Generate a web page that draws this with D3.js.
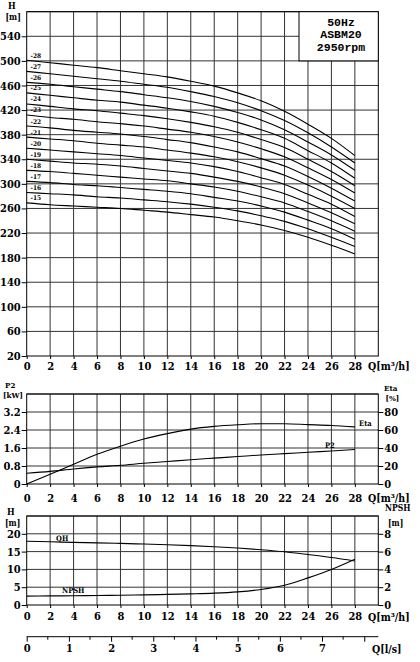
<!DOCTYPE html>
<html lang="en">
    <head>
        <meta charset="UTF-8"/>
        <title>ASBM20 pump curves</title>
        <script src="https://d3js.org/d3.v7.min.js"></script>
        <style>
            body { margin: 0; background: #fff; }
            svg text { font-family: "DejaVu Serif Condensed", "DejaVu Serif", serif; font-weight: bold; font-stretch: condensed; fill: #000; }
            .grid { stroke: #333; stroke-width: 1; }
            .curve { fill: none; stroke: #000; stroke-width: 1.1; }
        </style>
    </head>

    <body>
        <script>
        var w = 420;
        var h = 662;

        // flow points (m3/h) where the curves were read
        var qPoints = [0, 2, 4, 6, 8, 10, 12, 14, 16, 18, 20, 22, 24, 26, 28];
        var qTicks = [0, 2, 4, 6, 8, 10, 12, 14, 16, 18, 20, 22, 24, 26, 28];

        // head of each stage count
        var stages = [15, 16, 17, 18, 19, 20, 21, 22, 23, 24, 25, 26, 27, 28];
        var stageHeads = [
            [269, 266, 264, 262, 260, 257, 254, 250, 246, 240, 233, 224, 213, 200, 186],
            [286, 284, 282, 279, 277, 274, 271, 267, 262, 256, 248, 239, 227, 213, 198],
            [304, 302, 299, 297, 294, 291, 288, 284, 278, 272, 264, 254, 241, 227, 210],
            [322, 320, 317, 314, 311, 308, 305, 300, 295, 288, 279, 269, 255, 240, 223],
            [340, 337, 334, 332, 329, 325, 321, 317, 311, 304, 295, 284, 269, 253, 235],
            [358, 355, 352, 349, 346, 342, 338, 334, 328, 320, 310, 299, 283, 267, 247],
            [376, 373, 370, 366, 363, 360, 355, 350, 344, 336, 326, 314, 298, 280, 260],
            [394, 391, 387, 384, 381, 377, 372, 367, 360, 352, 341, 329, 312, 293, 272],
            [412, 408, 405, 401, 398, 394, 389, 384, 377, 368, 357, 344, 326, 307, 285],
            [430, 426, 422, 419, 415, 411, 406, 400, 393, 384, 372, 359, 340, 320, 297],
            [448, 444, 440, 436, 433, 428, 423, 417, 410, 400, 388, 374, 354, 334, 309],
            [465, 462, 458, 454, 450, 445, 440, 434, 426, 416, 404, 388, 368, 347, 322],
            [483, 479, 475, 471, 467, 462, 457, 450, 442, 432, 419, 403, 383, 360, 334],
            [501, 497, 493, 489, 484, 479, 474, 467, 459, 448, 435, 418, 397, 374, 346]
        ];
        var hTicks = [20, 60, 100, 140, 180, 220, 260, 300, 340, 380, 420, 460, 500, 540];

        // power and efficiency
        var p2 = [0.48, 0.56, 0.67, 0.76, 0.83, 0.92, 1.0, 1.08, 1.15, 1.22, 1.29, 1.35, 1.41, 1.47, 1.53];
        var eta = [0, 10.8, 22, 33, 42, 50, 56, 61, 64, 65.8, 67, 67, 66, 65, 63.5];
        var p2Ticks = [0, 0.8, 1.6, 2.4, 3.2];
        var etaTicks = [0, 20, 40, 60, 80];

        // single stage head and NPSH
        var headPerStage = [17.9, 17.75, 17.6, 17.45, 17.3, 17.12, 16.92, 16.68, 16.38, 16.0, 15.52, 14.94, 14.17, 13.34, 12.37];
        var npsh = [1.0, 1.02, 1.04, 1.07, 1.1, 1.14, 1.19, 1.25, 1.33, 1.48, 1.75, 2.22, 3.05, 4.0, 5.15];
        var qhTicks = [0, 5, 10, 15, 20];
        var npshTicks = [0, 2, 4, 6, 8];
        var lsTicks = [0, 1, 2, 3, 4, 5, 6, 7, 8];
        var lsMinor = [0.5, 1.5, 2.5, 3.5, 4.5, 5.5, 6.5, 7.5];

        var legendLines = ["50Hz", "ASBM20", "2950rpm"];

        var left = 26.7;
        var right = 378.3;

        var xScale = d3.scaleLinear()
                        .domain([0, 30])
                        .range([left, right]);

        var svg = d3.select("body")
                    .append("svg")
                    .attr("width", w)
                    .attr("height", h);

        function clearAxis(g) {
            g.attr("font-family", null).attr("font-size", null);
            g.select(".domain").remove();
            g.selectAll("line").attr("stroke", "#000");
        }

        // draws grid, frame and bottom axis of one panel
        function panel(yScale, yTicks, labelPad, qShift) {
            var yBottom = yScale.range()[0];
            var yMax = yScale.range()[1];

            svg.append("g").selectAll("line")
                .data(qTicks.slice(1))
                .enter()
                .append("line")
                .attr("class", "grid")
                .attr("x1", d => xScale(d))
                .attr("x2", d => xScale(d))
                .attr("y1", yMax)
                .attr("y2", yBottom);

            svg.append("g").selectAll("line")
                .data(yTicks.slice(1))
                .enter()
                .append("line")
                .attr("class", "grid")
                .attr("x1", left)
                .attr("x2", right)
                .attr("y1", d => yScale(d))
                .attr("y2", d => yScale(d));

            // frame
            svg.append("rect")
                .attr("x", left)
                .attr("y", yMax)
                .attr("width", right - left)
                .attr("height", yBottom - yMax)
                .attr("fill", "none")
                .attr("stroke", "#000");

            var xAxis = d3.axisBottom(xScale)
                            .tickValues(qTicks)
                            .tickSize(3)
                            .tickPadding(labelPad)
                            .tickFormat(d3.format("d"));

            svg.append("g")
                .attr("transform", "translate(0," + yBottom + ")")
                .call(xAxis)
                .call(clearAxis)
                .selectAll("text")
                .style("font-size", "11px");

            svg.append("text")
                .attr("x", 368)
                .attr("y", yBottom + labelPad + 3 + 0.71 * 11 + qShift)
                .style("font-size", "10.5px")
                .text("Q[m³/h]");
        }

        function leftAxis(yScale, ticks, fmt) {
            var yAxis = d3.axisLeft(yScale)
                            .tickValues(ticks)
                            .tickSize(5)
                            .tickPadding(1)
                            .tickFormat(fmt);
            svg.append("g")
                .attr("transform", "translate(" + left + ",0)")
                .call(yAxis)
                .call(clearAxis)
                .selectAll("text")
                .style("font-size", "11px");
        }

        function rightAxis(yScale, ticks) {
            var yAxis = d3.axisRight(yScale)
                            .tickValues(ticks)
                            .tickSize(5)
                            .tickPadding(1)
                            .tickFormat(d3.format("d"));
            svg.append("g")
                .attr("transform", "translate(" + right + ",0)")
                .call(yAxis)
                .call(clearAxis)
                .selectAll("text")
                .style("font-size", "11px");
        }

        function smallText(x, y, size, txt) {
            svg.append("text")
                .attr("x", x)
                .attr("y", y)
                .style("font-size", size + "px")
                .text(txt);
        }

        /* Top chart: H for each stage count */
        var yTop = d3.scaleLinear()
                        .domain([20, 580])
                        .range([356, 11.7]);

        panel(yTop, hTicks.concat([580]), 3, 0);
        leftAxis(yTop, hTicks, d3.format("d"));

        var topLine = d3.line()
                        .x((d, i) => xScale(qPoints[i]))
                        .y(d => yTop(d))
                        .curve(d3.curveMonotoneX);

        svg.append("g").selectAll("path")
            .data(stageHeads)
            .enter()
            .append("path")
            .attr("class", "curve")
            .attr("d", topLine);

        svg.append("g").selectAll("text")
            .data(stages)
            .enter()
            .append("text")
            .attr("x", 30.5)
            .attr("y", (d, i) => yTop(stageHeads[i][0]) - 2.5)
            .style("font-size", "6.5px")
            .text(d => "-" + d);

        // legend box
        svg.append("rect")
            .attr("x", 299)
            .attr("y", 11.7)
            .attr("width", right - 299)
            .attr("height", yTop(500) - 11.7)
            .attr("fill", "#fff")
            .attr("stroke", "#000");

        svg.append("g").selectAll("text")
            .data(legendLines)
            .enter()
            .append("text")
            .attr("x", 341)
            .attr("y", (d, i) => 25.5 + i * 12.8)
            .attr("text-anchor", "middle")
            .style("font-family", "'Liberation Mono', 'DejaVu Sans Mono', monospace")
            .style("font-size", "11.5px")
            .text(d => d);

        smallText(8, 9.3, 9, "H");
        smallText(5.5, 20.3, 8.5, "[m]");

        /* Middle chart: P2 and Eta */
        var yP2 = d3.scaleLinear()
                    .domain([0, 4])
                    .range([484, 394]);
        var yEta = d3.scaleLinear()
                    .domain([0, 100])
                    .range([484, 394]);

        panel(yP2, p2Ticks.concat([4]), 7, 0);
        leftAxis(yP2, p2Ticks, d => d === 0 ? "0" : d.toFixed(1));
        rightAxis(yEta, etaTicks);

        svg.append("path")
            .datum(p2)
            .attr("class", "curve")
            .attr("d", d3.line()
                        .x((d, i) => xScale(qPoints[i]))
                        .y(d => yP2(d))
                        .curve(d3.curveMonotoneX));

        svg.append("path")
            .datum(eta)
            .attr("class", "curve")
            .attr("d", d3.line()
                        .x((d, i) => xScale(qPoints[i]))
                        .y(d => yEta(d))
                        .curve(d3.curveMonotoneX));

        smallText(325, 448.3, 7.5, "P2");
        smallText(359, 425.7, 7.5, "Eta");
        smallText(5, 388.3, 8, "P2");
        smallText(3, 398, 8, "[kW]");
        smallText(384, 390.8, 8, "Eta");
        smallText(385.5, 400.5, 8, "[%]");

        /* Bottom chart: QH and NPSH of one stage */
        var yQH = d3.scaleLinear()
                    .domain([0, 25])
                    .range([605, 516]);
        var yNpsh = d3.scaleLinear()
                    .domain([0, 10])
                    .range([605, 516]);

        panel(yQH, qhTicks.concat([25]), 4, 1.5);
        leftAxis(yQH, qhTicks, d3.format("d"));
        rightAxis(yNpsh, npshTicks);

        svg.append("path")
            .datum(headPerStage)
            .attr("class", "curve")
            .attr("d", d3.line()
                        .x((d, i) => xScale(qPoints[i]))
                        .y(d => yQH(d))
                        .curve(d3.curveMonotoneX));

        svg.append("path")
            .datum(npsh)
            .attr("class", "curve")
            .attr("d", d3.line()
                        .x((d, i) => xScale(qPoints[i]))
                        .y(d => yNpsh(d))
                        .curve(d3.curveMonotoneX));

        smallText(56, 541, 7.5, "QH");
        smallText(62, 593, 7.5, "NPSH");
        smallText(7, 515, 9, "H");
        smallText(5, 525.5, 8.5, "[m]");
        smallText(385, 511, 8.5, "NPSH");
        smallText(388, 526, 8.5, "[m]");

        /* Q in l/s */
        var lsScale = d3.scaleLinear()
                        .domain([0, 30 / 3.6])
                        .range([left, right]);

        var lsAxis = d3.axisBottom(lsScale)
                        .tickValues(lsTicks)
                        .tickSize(5)
                        .tickPadding(3)
                        .tickFormat(d => d < 8 ? d : "");

        svg.append("line")
            .attr("x1", left)
            .attr("x2", right)
            .attr("y1", 636.7)
            .attr("y2", 636.7)
            .attr("stroke", "#000");

        svg.append("g")
            .attr("transform", "translate(0,636.7)")
            .call(lsAxis)
            .call(clearAxis)
            .selectAll("text")
            .style("font-size", "11px");

        svg.append("g").selectAll("line")
            .data(lsMinor)
            .enter()
            .append("line")
            .attr("x1", d => lsScale(d))
            .attr("x2", d => lsScale(d))
            .attr("y1", 636.7)
            .attr("y2", 639.7)
            .attr("stroke", "#000");

        svg.append("text")
            .attr("x", 372)
            .attr("y", 652.7)
            .style("font-size", "10.5px")
            .text("Q[l/s]");

        </script>
    </body>
</html>
